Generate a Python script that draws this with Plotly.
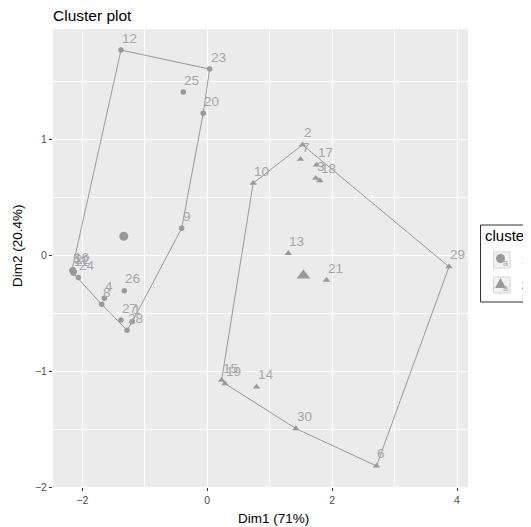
import plotly.graph_objects as go

# ---- data (Dim1, Dim2 coordinates) ----
c1_labels = ["12", "23", "25", "20", "9", "11", "5", "16", "22", "24", "26", "4", "8", "27", "1", "28"]
c1_x = [-1.381, 0.038, -0.384, -0.064, -0.410, -2.144, -2.168, -2.150, -2.130, -2.064, -1.328, -1.648, -1.690, -1.381, -1.200, -1.285]
c1_y = [1.775, 1.611, 1.412, 1.230, 0.235, -0.154, -0.130, -0.120, -0.140, -0.189, -0.305, -0.370, -0.422, -0.558, -0.573, -0.645]

c2_labels = ["2", "7", "17", "3", "18", "10", "13", "21", "29", "6", "30", "14", "15", "19"]
c2_x = [1.526, 1.494, 1.750, 1.739, 1.803, 0.736, 1.298, 1.910, 3.872, 2.710, 1.419, 0.790, 0.230, 0.283]
c2_y = [0.956, 0.832, 0.783, 0.668, 0.647, 0.625, 0.019, -0.212, -0.097, -1.818, -1.495, -1.135, -1.077, -1.106]

cluster_names = ["1", "2"]
x_ticks = [-2, 0, 2, 4]
y_ticks = [-2, -1, 0, 1]

GREY = "#999999"
FONT = "Liberation Sans, Arial, sans-serif"

# the page body adds an 8 px offset; compensate in the margins
OFF = 8
W, H = 531, 527
PL, PT, PW, PH = 53, 29, 415, 458   # plot panel in page pixels


def px2x(px):
    return (px - PL) / PW


def py2y(py):
    return 1 - (py - PT) / PH


def convex_hull(xs, ys):
    pts = sorted(set(zip(xs, ys)))
    if len(pts) <= 2:
        return pts

    def cross(o, a, b):
        return (a[0] - o[0]) * (b[1] - o[1]) - (a[1] - o[1]) * (b[0] - o[0])

    lower = []
    for p in pts:
        while len(lower) >= 2 and cross(lower[-2], lower[-1], p) <= 0:
            lower.pop()
        lower.append(p)
    upper = []
    for p in reversed(pts):
        while len(upper) >= 2 and cross(upper[-2], upper[-1], p) <= 0:
            upper.pop()
        upper.append(p)
    hull = lower[:-1] + upper[:-1]
    hull.append(hull[0])
    return hull


fig = go.Figure()

clusters = [
    (cluster_names[0], c1_labels, c1_x, c1_y, "circle", 5.5, 9),
    (cluster_names[1], c2_labels, c2_x, c2_y, "triangle-up", 6.5, 12),
]

for name, labs, xs, ys, sym, msize, csize in clusters:
    hull = convex_hull(xs, ys)
    fig.add_trace(go.Scatter(
        x=[p[0] for p in hull], y=[p[1] for p in hull], mode="lines",
        line=dict(color=GREY, width=1), showlegend=False, hoverinfo="skip"))

for name, labs, xs, ys, sym, msize, csize in clusters:
    fig.add_trace(go.Scatter(
        x=xs, y=ys, mode="markers", text=labs, name=name,
        marker=dict(symbol=sym, size=msize, color=GREY, line=dict(width=0)),
        showlegend=False))
    cx = sum(xs) / len(xs)
    cy = sum(ys) / len(ys)
    fig.add_trace(go.Scatter(
        x=[cx], y=[cy], mode="markers", name=name,
        marker=dict(symbol=sym, size=csize, color=GREY, line=dict(width=0)),
        showlegend=False))
    for lx, ly, lt in zip(xs, ys, labs):
        fig.add_annotation(
            x=lx, y=ly, text=lt, showarrow=False, xanchor="left", yanchor="middle",
            xshift=-1, yshift=12, font=dict(family=FONT, size=13.5, color="#a6a6a6"))

# axis titles (placed where the reference puts them)
fig.add_annotation(
    text="Dim1 (71%)", xref="paper", yref="paper",
    x=px2x(273), y=py2y(518), xanchor="center", yanchor="middle",
    showarrow=False, font=dict(family=FONT, size=13.5, color="black"))
fig.add_annotation(
    text="Dim2 (20.4%)", xref="paper", yref="paper", textangle=-90,
    x=px2x(18), y=py2y(246), xanchor="center", yanchor="middle",
    showarrow=False, font=dict(family=FONT, size=13.5, color="black"))

# ---- legend drawn like ggplot's (box, title, keys) ----
shapes = []
shapes.append(dict(type="rect", xref="paper", yref="paper",
                   x0=px2x(480.5), x1=px2x(560), y0=py2y(302), y1=py2y(225),
                   line=dict(color="#333333", width=1), fillcolor="white", layer="above"))
fig.add_annotation(text="cluster", xref="paper", yref="paper", x=px2x(482.5), y=py2y(235.5),
                   xanchor="left", yanchor="middle", showarrow=False,
                   font=dict(family=FONT, size=15, color="black"))
key_centers = [260, 285]
for i, (name, kc) in enumerate(zip(cluster_names, key_centers)):
    shapes.append(dict(type="rect", xref="paper", yref="paper",
                       x0=px2x(493.5), x1=px2x(510), y0=py2y(kc + 8), y1=py2y(kc - 8),
                       line=dict(color="#d6d6d6", width=1), fillcolor="#f2f2f2", layer="above"))
    kx, ky = 500.5, kc - 1.5
    if i == 0:
        shapes.append(dict(type="circle", xref="paper", yref="paper",
                           x0=px2x(kx - 4.5), x1=px2x(kx + 4.5), y0=py2y(ky + 4.5), y1=py2y(ky - 4.5),
                           line=dict(width=0), fillcolor=GREY, layer="above"))
    else:
        path = "M {},{} L {},{} L {},{} Z".format(
            px2x(kx - 5.5), py2y(ky + 4.5), px2x(kx + 5.5), py2y(ky + 4.5), px2x(kx), py2y(ky - 5.5))
        shapes.append(dict(type="path", xref="paper", yref="paper", path=path,
                           line=dict(width=0), fillcolor=GREY, layer="above"))
    fig.add_annotation(text="a", xref="paper", yref="paper", x=px2x(505.5), y=py2y(kc + 3),
                       xanchor="center", yanchor="middle", showarrow=False,
                       font=dict(family=FONT, size=9, color="#a6a6a6"))
    fig.add_annotation(text=name, xref="paper", yref="paper", x=px2x(519.5), y=py2y(kc),
                       xanchor="left", yanchor="middle", showarrow=False,
                       font=dict(family=FONT, size=10.5, color="black"))

axis_common = dict(
    showline=False, zeroline=False, ticks="outside", ticklen=3, tickwidth=1,
    tickcolor="#333333", gridcolor="white", gridwidth=1.1,
    tickfont=dict(family=FONT, size=10.5, color="#4d4d4d"),
)

fig.update_xaxes(
    range=[-2.47, 4.176], tickvals=x_ticks, ticktext=["\u22122", "0", "2", "4"],
    minor=dict(tickvals=[-1, 1, 3], showgrid=True, gridcolor="white", gridwidth=0.55, ticks=""),
    **axis_common)
fig.update_yaxes(
    range=[-2.0, 1.957], tickvals=y_ticks, ticktext=["\u22122", "\u22121", "0", "1"],
    minor=dict(tickvals=[-1.5, -0.5, 0.5, 1.5], showgrid=True, gridcolor="white", gridwidth=0.55, ticks=""),
    **axis_common)

fig.update_layout(
    width=W, height=H,
    margin=dict(l=PL - OFF, r=W - (PL - OFF) - PW, t=PT - OFF, b=H - (PT - OFF) - PH, autoexpand=False),
    paper_bgcolor="white", plot_bgcolor="#ebebeb",
    font=dict(family=FONT),
    title=dict(text="Cluster plot", x=(PL - OFF) / W, xanchor="left", xref="container",
               y=1 - (15.5 - OFF) / H, yanchor="middle", yref="container",
               font=dict(family=FONT, size=15.5, color="black")),
    shapes=shapes,
    showlegend=False,
)

fig.write_html("out.html")
